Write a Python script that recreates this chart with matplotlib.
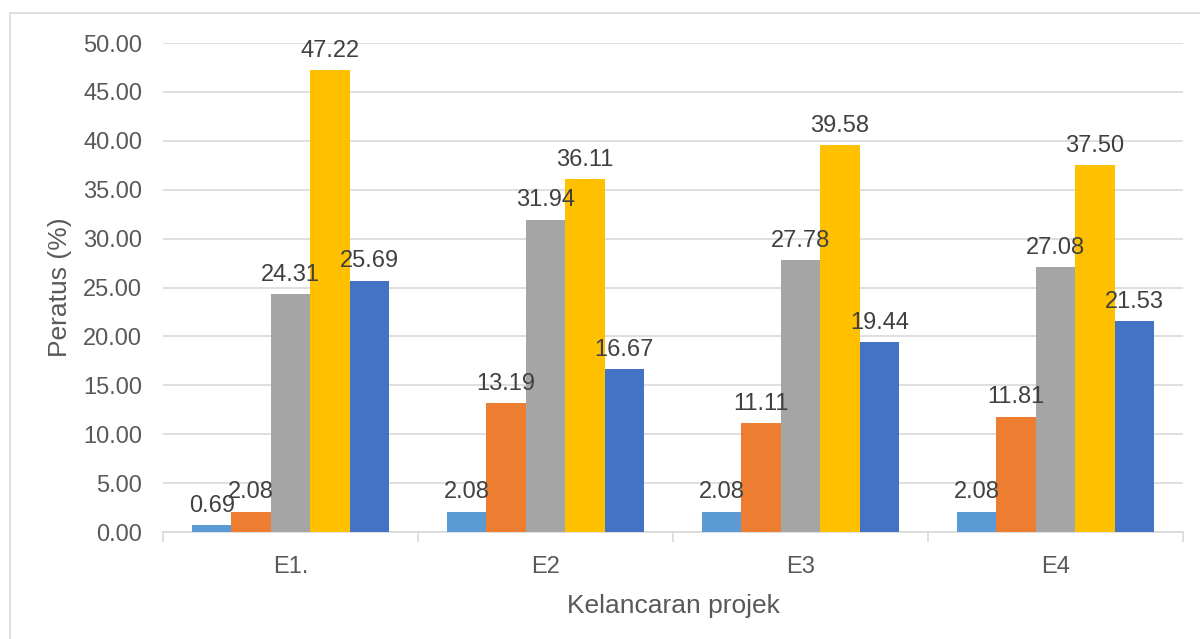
import numpy as np
import matplotlib.pyplot as plt
from matplotlib.patches import Rectangle
from matplotlib.ticker import FormatStrFormatter, FixedLocator

plt.rcParams["font.family"] = ["Liberation Sans", "DejaVu Sans"]

groups = ["E1.", "E2", "E3", "E4"]
series_a = [0.69, 2.08, 2.08, 2.08]
series_b = [2.08, 13.19, 11.11, 11.81]
series_c = [24.31, 31.94, 27.78, 27.08]
series_d = [47.22, 36.11, 39.58, 37.50]
series_e = [25.69, 16.67, 19.44, 21.53]

all_series = [series_a, series_b, series_c, series_d, series_e]
colors = ["#5B9BD5", "#ED7D31", "#A5A5A5", "#FFC000", "#4472C4"]

fig = plt.figure(figsize=(12, 6.39), dpi=100)
ax = fig.add_axes([0.1358, 0.1674, 0.85, 0.7653])

# chart border
fig.patches.append(Rectangle((10 / 1200, -0.01), 1.02, 1 - 13 / 639 + 0.01,
                             transform=fig.transFigure, fill=False,
                             edgecolor="#d9d9d9", linewidth=1.2))

x = np.arange(len(groups))
bw = 0.1545
for i, (vals, col) in enumerate(zip(all_series, colors)):
    pos = x + (i - 2) * bw
    bars = ax.bar(pos, vals, width=bw, color=col, zorder=3)
    for b, v in zip(bars, vals):
        ax.annotate(f"{v:.2f}", (b.get_x() + b.get_width() / 2, v),
                    xytext=(0, 6), textcoords="offset points",
                    ha="center", va="bottom", fontsize=17, color="#404040",
                    zorder=4)

ax.set_xlim(-0.5, 3.5)
ax.set_ylim(0, 50)
ax.set_yticks(np.arange(0, 51, 5))
ax.yaxis.set_major_formatter(FormatStrFormatter("%.2f"))
ax.set_xticks(x)
ax.set_xticklabels(groups)
ax.xaxis.set_minor_locator(FixedLocator([-0.5, 0.5, 1.5, 2.5, 3.5]))
ax.tick_params(axis="x", which="major", length=0, pad=17, labelsize=17, colors="#595959")
ax.tick_params(axis="x", which="minor", length=7, width=1.2, color="#d9d9d9")
ax.tick_params(axis="y", length=0, pad=15, labelsize=17, colors="#595959")

ax.grid(axis="y", color="#d9d9d9", linewidth=1.2, zorder=0)
for s in ["top", "right", "left"]:
    ax.spines[s].set_visible(False)
ax.spines["bottom"].set_color("#d9d9d9")
ax.spines["bottom"].set_linewidth(1.2)

ax.set_ylabel("Peratus (%)", fontsize=19, color="#595959", labelpad=8)
ax.set_xlabel("Kelancaran projek", fontsize=19, color="#595959", labelpad=12)

fig.savefig("out.png", dpi=100)
